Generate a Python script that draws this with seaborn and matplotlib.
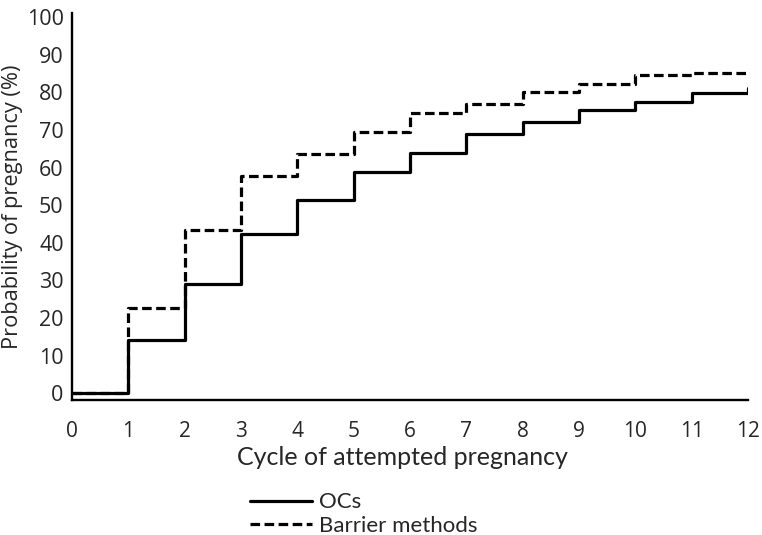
import pandas as pd
import seaborn as sns
import matplotlib.pyplot as plt

cycles = [0, 1, 2, 3, 4, 5, 6, 7, 8, 9, 10, 11, 12]
ocs = [0, 14.1, 29.0, 42.3, 51.5, 58.8, 64.0, 68.8, 72.2, 75.2, 77.5, 79.7, 81.2]
barrier = [0, 22.7, 43.4, 57.8, 63.5, 69.5, 74.6, 77.0, 80.0, 82.3, 84.6, 85.1, 85.1]
series_names = ['OCs', 'Barrier methods']

df = pd.concat([
    pd.DataFrame({'cycle': cycles, 'prob': ocs, 'group': series_names[0]}),
    pd.DataFrame({'cycle': cycles, 'prob': barrier, 'group': series_names[1]}),
])

sns.set_style('white')
plt.rcParams['font.family'] = ['Open Sans', 'DejaVu Sans']

fig, ax = plt.subplots(figsize=(7.62, 5.35), dpi=100)
sns.lineplot(data=df, x='cycle', y='prob', hue='group', style='group',
             palette={'OCs': 'black', 'Barrier methods': 'black'},
             dashes={'OCs': '', 'Barrier methods': (3, 1.4)},
             drawstyle='steps-post', linewidth=2.3, ax=ax)

ax.set_xlim(0, 12)
ax.set_ylim(-1.8, 101)
ax.set_xticks(range(0, 13))
ax.set_yticks(range(0, 101, 10))
ax.tick_params(axis='x', length=4, width=0.8, color='#888888', labelsize=15, pad=11)
ax.tick_params(axis='y', length=0, labelsize=15.5, pad=6)
for s in ['top', 'right']:
    ax.spines[s].set_visible(False)
for s in ['left', 'bottom']:
    ax.spines[s].set_linewidth(1.7)
    ax.spines[s].set_color('black')

ax.set_xlabel('Cycle of attempted pregnancy', fontsize=18, family=['Lato', 'DejaVu Sans'])
ax.xaxis.set_label_coords(0.489, -0.12)
ax.set_ylabel('Probability of pregnancy (%)', fontsize=15.7, labelpad=3)

fig.subplots_adjust(left=0.0945, right=0.9816, bottom=0.2523, top=0.975)

sns.move_legend(ax, loc='center left', bbox_to_anchor=(0.313, 0.039),
                bbox_transform=fig.transFigure, title=None, frameon=False,
                fontsize=16, handlelength=2.8, handletextpad=0.3,
                labelspacing=0.15, borderpad=0)
for t in ax.get_legend().get_texts():
    t.set_family(['Lato', 'DejaVu Sans'])

plt.savefig('out.png', dpi=100)
